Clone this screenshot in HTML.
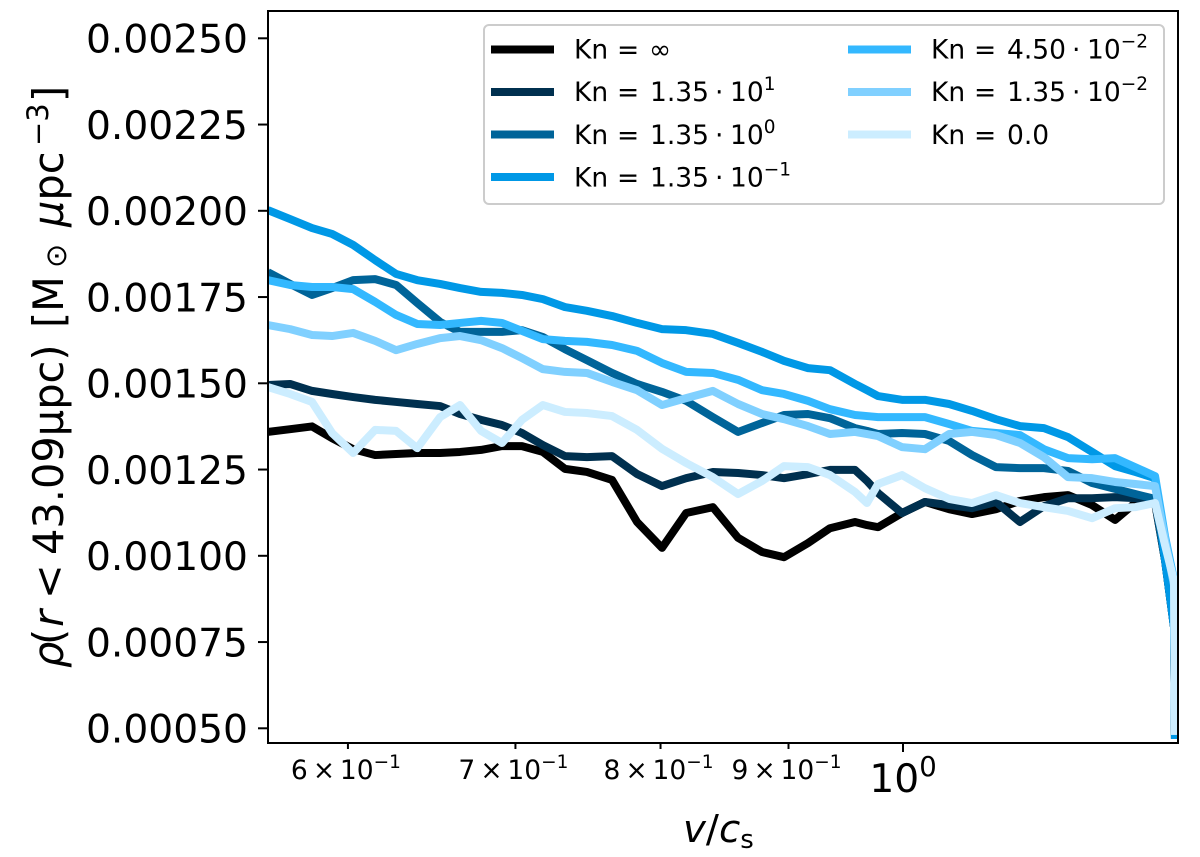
<!DOCTYPE html>
<html lang="en">
<head>
<meta charset="utf-8">
<title>Density versus velocity for several Knudsen numbers</title>
<style>
html,body{margin:0;padding:0;background:#fff;}
svg{display:block;}
text{font-family:"DejaVu Sans","Liberation Sans",sans-serif;fill:#000;}
</style>
</head>
<body>
<svg id="chart" xmlns="http://www.w3.org/2000/svg" width="1200" height="857" viewBox="0 0 1200 857">
  <defs><clipPath id="plot-clip"><rect x="268" y="11" width="910" height="732"/></clipPath></defs>
  <rect x="0" y="0" width="1200" height="857" fill="#fff"/>
  <g id="series-layer" clip-path="url(#plot-clip)"></g>
  <g id="tick-layer"></g>
  <rect x="268" y="11" width="910" height="732" fill="none" stroke="#000" stroke-width="2"/>

  <g>
    <rect x="484" y="25" width="680" height="179" rx="5" ry="5" fill="#fff" fill-opacity="0.8" stroke="#ccc" stroke-width="2"/>
    <g font-size="26.5">
      <g>
        <line x1="491" y1="49.5" x2="554" y2="49.5" stroke="#000000" stroke-width="8"/>
        <text y="58.3"><tspan x="574">Kn</tspan><tspan x="617">=</tspan><tspan x="649">∞</tspan></text>
      </g>
      <g>
        <line x1="491" y1="92" x2="554" y2="92" stroke="#00304f" stroke-width="8"/>
        <text y="101"><tspan x="574">Kn</tspan><tspan x="617">=</tspan><tspan x="650">1.35</tspan><tspan x="715">·</tspan><tspan x="730">10</tspan><tspan dy="-11" font-size="18.5">1</tspan></text>
      </g>
      <g>
        <line x1="491" y1="134.5" x2="554" y2="134.5" stroke="#006499" stroke-width="8"/>
        <text y="144"><tspan x="574">Kn</tspan><tspan x="617">=</tspan><tspan x="650">1.35</tspan><tspan x="715">·</tspan><tspan x="730">10</tspan><tspan dy="-11" font-size="18.5">0</tspan></text>
      </g>
      <g>
        <line x1="491" y1="177" x2="554" y2="177" stroke="#0098e6" stroke-width="8"/>
        <text y="186.7"><tspan x="574">Kn</tspan><tspan x="617">=</tspan><tspan x="650">1.35</tspan><tspan x="715">·</tspan><tspan x="730">10</tspan><tspan dy="-11" font-size="18.5">−1</tspan></text>
      </g>
      <g>
        <line x1="848" y1="49.5" x2="911" y2="49.5" stroke="#33b8ff" stroke-width="8"/>
        <text y="58.3"><tspan x="931">Kn</tspan><tspan x="974">=</tspan><tspan x="1007">4.50</tspan><tspan x="1072">·</tspan><tspan x="1087">10</tspan><tspan dy="-11" font-size="18.5">−2</tspan></text>
      </g>
      <g>
        <line x1="848" y1="92" x2="911" y2="92" stroke="#80d0ff" stroke-width="8"/>
        <text y="101"><tspan x="931">Kn</tspan><tspan x="974">=</tspan><tspan x="1007">1.35</tspan><tspan x="1072">·</tspan><tspan x="1087">10</tspan><tspan dy="-11" font-size="18.5">−2</tspan></text>
      </g>
      <g>
        <line x1="848" y1="134.5" x2="911" y2="134.5" stroke="#ccedff" stroke-width="8"/>
        <text y="144"><tspan x="931">Kn</tspan><tspan x="974">=</tspan><tspan x="1007">0.0</tspan></text>
      </g>
    </g>
  </g>

  <text transform="translate(63,668) rotate(-90)" font-size="41.5"><tspan x="0" font-style="italic">ρ</tspan><tspan x="23">(</tspan><tspan x="41" font-style="italic">r</tspan><tspan x="69">&lt;</tspan><tspan x="113">43.09μpc)</tspan><tspan x="340">[</tspan><tspan x="356">M</tspan><tspan x="400" dy="3" font-size="29">⊙</tspan><tspan x="441" dy="-3" font-style="italic">μ</tspan><tspan>pc</tspan><tspan x="522" dy="-15" font-size="29">−3</tspan><tspan x="566" dy="15">]</tspan></text>
  <text x="683" y="842" font-size="38.7"><tspan font-style="italic">v</tspan>/<tspan font-style="italic">c</tspan><tspan dy="6" font-size="26">s</tspan></text>
</svg>

<script>
// Horizontal values: v / c_s
const velocityBins = [0.5574,0.5689,0.5805,0.5913,0.6029,0.6152,0.6272,0.6395,0.6531,0.6652,0.6782,0.6914,0.7042,0.7179,0.7326,0.7476,0.7651,0.7829,0.8011,0.8191,0.8395,0.8592,0.8784,0.8963,0.9163,0.9350,0.9568,0.9674,0.9773,0.9991,1.0204,1.0433,1.0656,1.0893,1.1136,1.1385,1.1640,1.1901,1.2155,1.2382,1.2611,1.2727,1.2833,1.2844];

// Density series, in units of 1e-5 Msun / upc^3
const knInfinity = [135.9,136.7,137.5,134.1,130.9,129.2,129.5,129.8,129.8,130.1,130.7,131.8,131.8,130.1,125.2,124.3,122.0,109.8,102.3,112.4,114.1,105.2,101.1,99.6,103.7,108.0,109.8,108.9,108.3,112.4,115.6,113.5,112.1,113.5,115.9,117.0,117.6,114.7,110.4,115.3,115.3,98.8,79.3,46.9];
const kn135e1 = [149.5,149.8,147.8,146.9,146.0,145.2,144.6,144.0,143.4,141.1,139.4,137.9,135.6,132.1,128.9,128.6,128.9,123.7,120.2,122.5,124.3,124.0,123.4,122.5,123.7,124.9,124.9,121.7,118.2,112.4,115.6,114.7,113.8,115.6,109.8,114.4,116.7,116.7,117.0,116.7,115.6,98.8,79.3,46.9];
const kn135e0 = [182.2,178.8,175.6,177.6,179.9,180.2,178.5,173.3,167.8,164.9,164.9,164.9,165.4,163.4,159.9,156.7,153.0,149.8,147.5,144.9,140.2,135.9,138.5,140.8,141.1,139.9,137.0,136.2,135.3,135.6,135.3,133.3,129.2,125.7,125.4,125.4,124.6,121.1,119.4,117.9,116.5,98.8,79.3,46.9];
const kn135em1 = [200.2,197.6,195.0,193.3,190.1,185.7,181.7,179.9,178.8,177.6,176.5,176.2,175.6,174.4,172.1,171.0,169.5,167.5,165.7,165.4,164.3,161.7,159.1,156.5,154.4,153.8,149.8,148.0,146.3,145.2,145.2,144.0,142.0,139.6,137.6,137.0,134.4,130.1,126.0,124.3,122.5,98.8,79.3,46.9];
const kn450em2 = [179.9,178.5,177.9,177.9,177.3,173.6,169.8,167.2,166.9,167.5,168.1,167.5,165.2,162.8,162.3,162.0,161.1,159.4,155.9,153.3,153.0,151.0,148.0,146.9,144.9,142.5,140.8,140.5,140.2,140.2,140.2,138.2,136.2,135.6,135.0,130.9,128.3,128.0,128.3,125.7,123.1,105.7,93.0,48.1];
const kn135em2 = [166.9,165.7,164.0,163.7,164.6,162.3,159.6,161.4,163.1,163.7,162.5,160.2,157.3,154.1,153.3,153.0,150.4,148.0,143.7,145.7,147.8,144.0,141.1,139.6,137.6,135.3,135.9,135.3,134.7,131.5,130.9,135.3,135.9,135.0,132.7,128.6,122.8,122.5,121.4,120.8,120.2,104.6,91.5,48.1];
const knZero = [148.9,146.9,144.6,135.6,129.8,136.5,136.2,131.2,140.2,143.7,136.2,132.7,139.4,143.7,141.7,141.4,140.5,136.5,131.0,126.9,122.8,117.9,121.7,126.0,125.7,123.4,118.5,115.3,120.8,123.4,119.6,116.5,115.3,117.6,115.3,114.1,113.0,110.9,113.8,114.1,115.3,103.1,92.7,48.1];

const seriesNames = ['kn-infinity','kn-1.35e1','kn-1.35e0','kn-1.35e-1','kn-4.50e-2','kn-1.35e-2','kn-0'];
const seriesColors = ['#000000','#00304f','#006499','#0098e6','#33b8ff','#80d0ff','#ccedff'];
const seriesValues = [knInfinity,kn135e1,kn135e0,kn135em1,kn450em2,kn135em2,knZero];

// Tick definitions
const yTickValues = [0.0025,0.00225,0.002,0.00175,0.0015,0.00125,0.001,0.00075,0.0005];
const yTickLabels = ['0.00250','0.00225','0.00200','0.00175','0.00150','0.00125','0.00100','0.00075','0.00050'];
const xMinorTickValues = [0.6,0.7,0.8,0.9];
const xMinorTickDigits = ['6','7','8','9'];
const xMajorTickValue = 1;

const NS = 'http://www.w3.org/2000/svg';
const xScale = function (v) { return 903 + 2502 * Math.log10(v); };
const yScale = function (v) { return 38.3 + (0.0025 - v) / 0.00025 * 86.25; };

const seriesLayer = document.getElementById('series-layer');
seriesValues.forEach(function (vals, s) {
  const pts = vals.map(function (d, i) {
    return xScale(velocityBins[i]).toFixed(2) + ',' + yScale(d * 1e-5).toFixed(2);
  }).join(' ');
  const line = document.createElementNS(NS, 'polyline');
  line.setAttribute('points', pts);
  line.setAttribute('fill', 'none');
  line.setAttribute('stroke', seriesColors[s]);
  line.setAttribute('stroke-width', '8');
  line.setAttribute('stroke-linejoin', 'round');
  
  
  seriesLayer.appendChild(line);
});

const tickLayer = document.getElementById('tick-layer');
function addTickLine(x1, y1, x2, y2, name) {
  const t = document.createElementNS(NS, 'line');
  t.setAttribute('x1', x1);
  t.setAttribute('y1', y1);
  t.setAttribute('x2', x2);
  t.setAttribute('y2', y2);
  t.setAttribute('stroke', '#000');
  t.setAttribute('stroke-width', '2');
  
  
  tickLayer.appendChild(t);
}
yTickValues.forEach(function (v, i) {
  const y = yScale(v);
  addTickLine(258, y, 268, y, 'y-tick-mark');
  const label = document.createElementNS(NS, 'text');
  label.setAttribute('x', '248');
  label.setAttribute('y', (y + 14.4).toFixed(2));
  label.setAttribute('text-anchor', 'end');
  label.setAttribute('font-size', '39.2');
  label.textContent = yTickLabels[i];
  
  
  tickLayer.appendChild(label);
});
xMinorTickValues.forEach(function (v, i) {
  const x = xScale(v);
  addTickLine(x, 743, x, 749, 'x-minor-tick-mark');
  const label = document.createElementNS(NS, 'text');
  label.setAttribute('y', '779');
  label.setAttribute('font-size', '26.5');
  label.innerHTML = '<tspan x="' + (x - 57).toFixed(1) + '">' + xMinorTickDigits[i] + '</tspan>' +
    '<tspan x="' + (x - 35).toFixed(1) + '">×</tspan>' +
    '<tspan x="' + (x - 8).toFixed(1) + '">10</tspan>' +
    '<tspan dy="-11" font-size="18.5">−1</tspan>';
  
  
  tickLayer.appendChild(label);
});
(function () {
  const x = xScale(xMajorTickValue);
  addTickLine(x, 743, x, 752, 'x-major-tick-mark');
  const label = document.createElementNS(NS, 'text');
  label.setAttribute('x', x.toFixed(2));
  label.setAttribute('y', '792');
  label.setAttribute('text-anchor', 'middle');
  label.setAttribute('font-size', '39.2');
  label.innerHTML = '10<tspan dy="-16" font-size="27.5">0</tspan>';
  
  
  tickLayer.appendChild(label);
})();
</script>
</body>
</html>
